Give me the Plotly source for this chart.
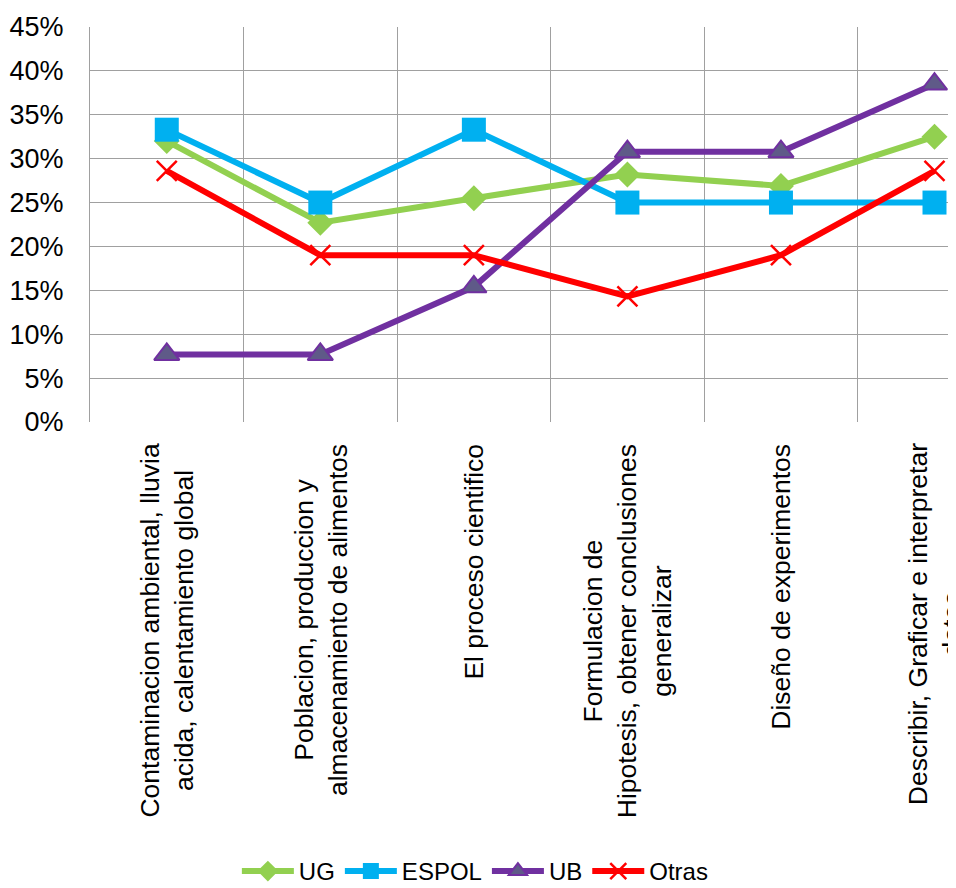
import plotly.graph_objects as go

categories = [
    "Contaminacion ambiental, lluvia<br>acida, calentamiento global",
    "Poblacion, produccion y<br>almacenamiento de alimentos",
    "El proceso cientifico",
    "Formulacion de<br>Hipotesis, obtener conclusiones<br>generalizar",
    "Diseño de experimentos",
    "Describir, Graficar e interpretar<br>datos",
]
cat_ids = ["c0", "c1", "c2", "c3", "c4", "c5"]

ug = [0.32, 0.227, 0.255, 0.282, 0.269, 0.325]
espol = [0.333, 0.25, 0.333, 0.25, 0.25, 0.25]
ub = [0.077, 0.077, 0.154, 0.308, 0.308, 0.385]
otras = [0.286, 0.19, 0.19, 0.143, 0.19, 0.286]

FONT = "Liberation Sans, Arial, sans-serif"

fig = go.Figure()
fig.add_trace(go.Scatter(x=cat_ids, y=ug, name="UG", mode="lines+markers",
                         line=dict(color="#92D050", width=6),
                         marker=dict(symbol="diamond", size=20, color="#92D050")))
fig.add_trace(go.Scatter(x=cat_ids, y=espol, name="ESPOL", mode="lines+markers",
                         line=dict(color="#00B0F0", width=6),
                         marker=dict(symbol="square", size=24, color="#00B0F0")))
fig.add_trace(go.Scatter(x=cat_ids, y=ub, name="UB", mode="lines+markers",
                         line=dict(color="#7030A0", width=6),
                         marker=dict(symbol="triangle-up", size=22, color="#5F5A88",
                                     line=dict(color="#7030A0", width=2))))
fig.add_trace(go.Scatter(x=cat_ids, y=otras, name="Otras", mode="lines+markers",
                         line=dict(color="#FF0000", width=6),
                         marker=dict(symbol="x-thin", size=20, color="#FF0000",
                                     line=dict(color="#FF0000", width=2.5))))

for cid, lab in zip(cat_ids, categories):
    fig.add_annotation(x=cid, y=-0.05, xref="x", yref="paper", text=lab,
                       textangle=-90, showarrow=False, xanchor="center", yanchor="top",
                       align="center", font=dict(family=FONT, size=26.5, color="#000000"))

# page body has an 8px default margin; size the figure so it ends at the window edge
fig.update_layout(
    width=948, height=880,
    margin=dict(l=82, r=0, t=19, b=466, autoexpand=False),
    paper_bgcolor="white", plot_bgcolor="white",
    font=dict(family=FONT, size=24, color="#000000"),
    showlegend=True,
    legend=dict(orientation="h", x=0.445, xanchor="center", y=-1.138, yanchor="middle",
                font=dict(family=FONT, size=24, color="#000000"),
                itemwidth=52, tracegroupgap=0),
    xaxis=dict(type="category", categoryorder="array", categoryarray=cat_ids,
               range=[-0.5, 5.14], tickson="boundaries", showgrid=True,
               gridcolor="#A0A0A0", gridwidth=1, showticklabels=False, ticks="",
               showline=False, zeroline=False, fixedrange=True, automargin=False),
    yaxis=dict(range=[0, 0.45], dtick=0.05, tickformat=".0%", showgrid=True,
               gridcolor="#A0A0A0", gridwidth=1, showline=True, linecolor="#A0A0A0",
               linewidth=1, zeroline=False, ticks="", ticklabelstandoff=20,
               automargin=False,
               tickfont=dict(family=FONT, size=27, color="#000000")),
)

fig.write_html("out.html")
